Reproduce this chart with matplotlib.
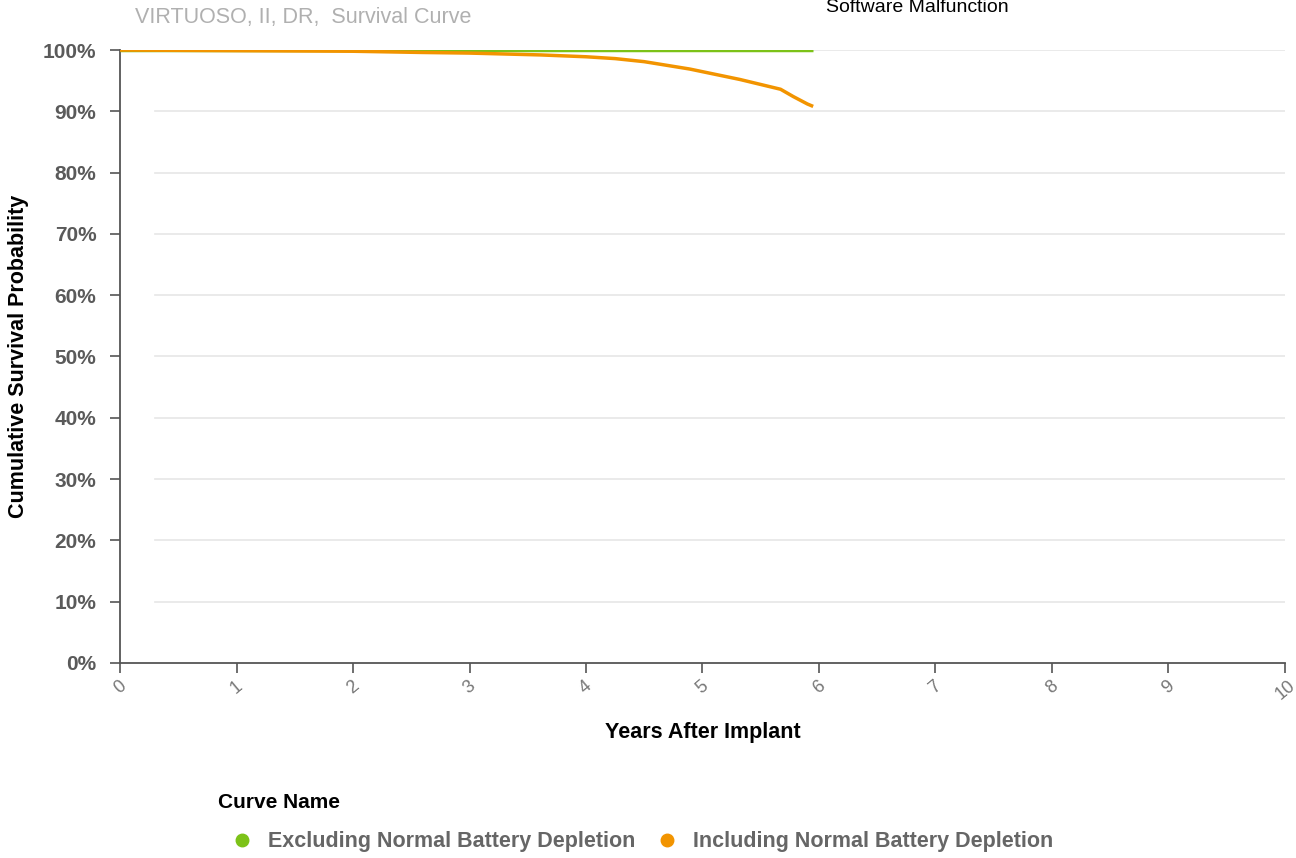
import numpy as np
import matplotlib.pyplot as plt
from matplotlib.lines import Line2D

plt.rcParams['font.family'] = ['Liberation Sans', 'DejaVu Sans']

# data
years_excl = [0, 1, 2, 3, 4, 5, 5.95]
surv_excl = [100, 100, 100, 100, 100, 100, 100]

years_incl = [0, 1, 2, 2.6, 3.0, 3.61, 4.0, 4.25, 4.5, 4.89, 5.32, 5.67, 5.78, 5.9, 5.95]
surv_incl = [100, 99.9, 99.8, 99.6, 99.5, 99.2, 98.9, 98.6, 98.1, 96.9, 95.2, 93.6, 92.4, 91.2, 90.8]

x_ticks = list(range(0, 11))
y_ticks = list(range(0, 101, 10))

green = '#7cc218'
orange = '#f29400'

fig = plt.figure(figsize=(12.96, 8.58), dpi=100)
ax = fig.add_axes([0.0926, 0.2273, 0.8989, 0.7144])

for y in y_ticks[1:]:
    ax.axhline(y, xmin=0.03, xmax=1.0, color='#e6e6e6', lw=1.2, zorder=0)

ax.plot(years_excl, surv_excl, color=green, lw=2.5, solid_capstyle='butt', zorder=3)
ax.plot(years_incl, surv_incl, color=orange, lw=2.5, solid_capstyle='butt', zorder=4)

ax.set_xlim(0, 10)
ax.set_ylim(0, 100)
ax.set_xticks(x_ticks)
ax.set_xticklabels([str(t) for t in x_ticks], rotation=40, fontsize=13)
ax.set_yticks(y_ticks)
ax.set_yticklabels(['%d%%' % t for t in y_ticks], fontsize=15, fontweight='bold')
ax.tick_params(axis='both', colors='#555555', length=7, width=1.2)
ax.tick_params(axis='y', pad=10)
for lab in ax.get_xticklabels():
    lab.set_color('#777777')
for lab in ax.get_yticklabels():
    lab.set_color('#5a5a5a')

for s in ['top', 'right']:
    ax.spines[s].set_visible(False)
ax.spines['left'].set_color('#555555')
ax.spines['bottom'].set_color('#555555')
ax.spines['left'].set_linewidth(1.3)
ax.spines['bottom'].set_linewidth(1.3)

ax.set_xlabel('Years After Implant', fontsize=15.5, fontweight='bold', labelpad=13)
ax.set_ylabel('Cumulative Survival Probability', fontsize=15.5, fontweight='bold', labelpad=10)

fig.text(135 / 1296, 1 - 18 / 858, 'VIRTUOSO, II, DR,  Survival Curve', color='#b0b0b0',
         fontsize=15.5, va='center', ha='left')
fig.text(826 / 1296, 1 - 8 / 858, 'Software Malfunction', color='black',
         fontsize=14, va='center', ha='left')

fig.text(218 / 1296, 1 - 802 / 858, 'Curve Name', color='black', fontsize=15,
         fontweight='bold', va='center', ha='left')
handles = [Line2D([], [], marker='o', ls='', color=green, markersize=9),
           Line2D([], [], marker='o', ls='', color=orange, markersize=9)]
fig.legend(handles, ['Excluding Normal Battery Depletion', 'Including Normal Battery Depletion'],
           loc='center left', bbox_to_anchor=(212 / 1296, 1 - 842 / 858), ncol=2,
           frameon=False, handlelength=1.0, handletextpad=0.69, columnspacing=1.0,
           labelcolor='#666666', prop={'weight': 'bold', 'size': 15.5})

fig.savefig('out.png', dpi=100)
